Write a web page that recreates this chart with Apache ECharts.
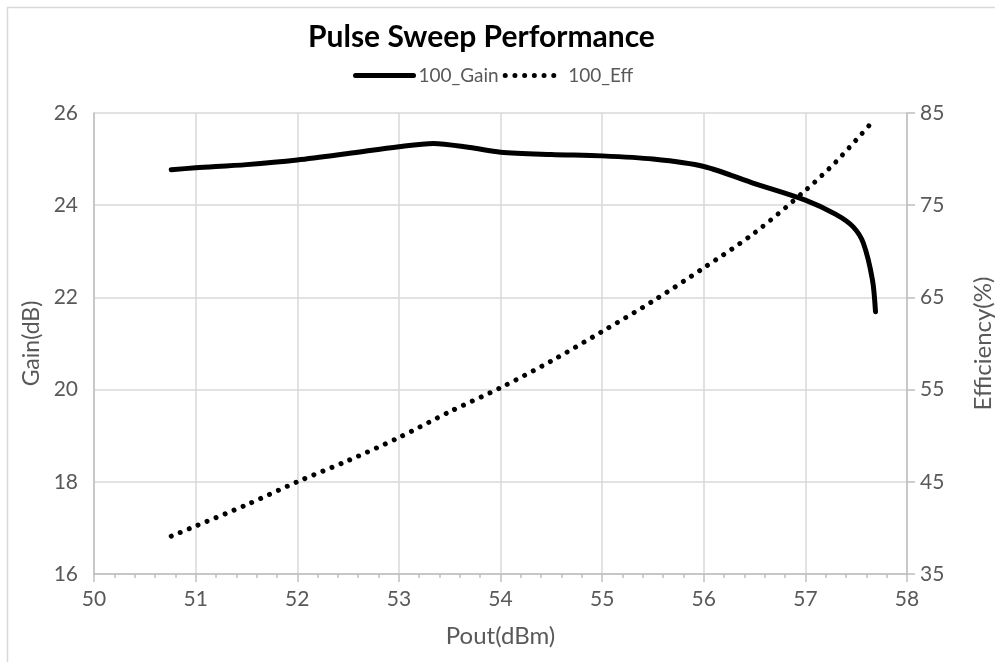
<!DOCTYPE html>
<html>
<head>
<meta charset="utf-8">
<script src="https://cdn.jsdelivr.net/npm/echarts@6/dist/echarts.min.js"></script>
<style>
  html, body { margin: 0; padding: 0; background: #fff; }
  #chart { width: 995px; height: 662px; }
</style>
</head>
<body>
<div id="chart"></div>
<script>
// values
const gainPout = [50.76, 51, 51.5, 52, 52.5, 53, 53.34, 53.7, 54, 54.5, 55, 55.5, 56, 56.5, 57, 57.3, 57.47, 57.57, 57.66, 57.69]
const gainDb = [24.77, 24.81, 24.88, 24.98, 25.12, 25.27, 25.34, 25.25, 25.15, 25.1, 25.07, 25.0, 24.84, 24.47, 24.11, 23.8, 23.53, 23.18, 22.38, 21.69]

const effPout = [50.76, 51, 51.5, 52, 52.5, 53, 53.5, 54, 54.5, 55, 55.5, 56, 56.5, 57, 57.3, 57.64]
const effPct = [39.1, 40.2, 42.5, 45.0, 47.3, 49.8, 52.6, 55.2, 58.1, 61.3, 64.6, 68.2, 72.0, 76.6, 79.7, 83.8]

const labelColor = '#595959'
const gridColor = '#d9d9d9'
const axisColor = '#bfbfbf'
const font = 'Lato, "Noto Sans", sans-serif'
const dots = [0.01, 9.7]

const chart = echarts.init(document.getElementById('chart'))

chart.setOption({
  animation: false,
  title: {
    text: 'Pulse Sweep Performance',
    left: 303,
    top: 17,
    textStyle: { fontFamily: font, fontSize: 30, fontWeight: 'bold', color: '#000' },
  },
  legend: {
    top: 61,
    left: 348,
    itemWidth: 58,
    itemHeight: 10,
    itemGap: 4,
    textStyle: { fontFamily: font, fontSize: 19, color: labelColor },
    data: [
      { name: '100_Gain', itemStyle: { opacity: 0 }, lineStyle: { width: 5, color: '#000' } },
      { name: '100_Eff', itemStyle: { opacity: 0 }, lineStyle: { width: 5, color: '#000', type: dots, cap: 'round' } },
    ],
  },
  graphic: [
    {
      type: 'rect',
      shape: { x: 7.5, y: 7.5, width: 1000, height: 700 },
      style: { fill: 'none', stroke: '#d9d9d9', lineWidth: 1.5 },
      silent: true,
    },
  ],
  grid: { left: 94, right: 88, top: 113, bottom: 88, outerBoundsMode: 'none', containLabel: false },
  xAxis: {
    type: 'value',
    min: 50,
    max: 58,
    interval: 1,
    name: 'Pout(dBm)',
    nameLocation: 'middle',
    nameGap: 50,
    nameTextStyle: { fontFamily: font, fontSize: 24, color: labelColor },
    axisLine: { show: true, lineStyle: { color: axisColor, width: 1.5 } },
    axisTick: { show: true, length: 8, lineStyle: { color: axisColor, width: 1.5 } },
    minorTick: { show: true, splitNumber: 5, length: 4, lineStyle: { color: axisColor, width: 1.5 } },
    axisLabel: { margin: 15, fontFamily: font, fontSize: 21, color: labelColor },
    splitLine: { show: true, lineStyle: { color: gridColor, width: 1.5 } },
  },
  yAxis: [
    {
      type: 'value',
      min: 16,
      max: 26,
      interval: 2,
      name: 'Gain(dB)',
      nameLocation: 'middle',
      nameGap: 50,
      nameTextStyle: { fontFamily: font, fontSize: 23, color: labelColor },
      axisLine: { show: true, lineStyle: { color: axisColor, width: 1.5 } },
      axisTick: { show: false },
      axisLabel: { margin: 16, fontFamily: font, fontSize: 21, color: labelColor },
      splitLine: { show: true, lineStyle: { color: gridColor, width: 1.5 } },
    },
    {
      type: 'value',
      min: 35,
      max: 85,
      interval: 10,
      position: 'right',
      name: 'Efficiency(%)',
      nameLocation: 'middle',
      nameGap: 64,
      nameRotate: 90,
      nameTextStyle: { fontFamily: font, fontSize: 24, color: labelColor },
      axisLine: { show: true, lineStyle: { color: axisColor, width: 1.5 } },
      axisTick: { show: true, length: 8, lineStyle: { color: axisColor, width: 1.5 } },
      axisLabel: { margin: 13, fontFamily: font, fontSize: 21, color: labelColor },
      splitLine: { show: false },
    },
  ],
  series: [
    {
      name: '100_Gain',
      type: 'line',
      yAxisIndex: 0,
      data: gainPout.map((x, i) => [x, gainDb[i]]),
      smooth: 0.3,
      showSymbol: false,
      symbol: 'none',
      itemStyle: { color: '#000' },
      lineStyle: { color: '#000', width: 5, cap: 'round' },
    },
    {
      name: '100_Eff',
      type: 'line',
      yAxisIndex: 1,
      data: effPout.map((x, i) => [x, effPct[i]]),
      smooth: 0.3,
      showSymbol: false,
      symbol: 'none',
      itemStyle: { color: '#000' },
      lineStyle: { color: '#000', width: 5, type: dots, cap: 'round' },
    },
  ],
})
</script>
</body>
</html>
